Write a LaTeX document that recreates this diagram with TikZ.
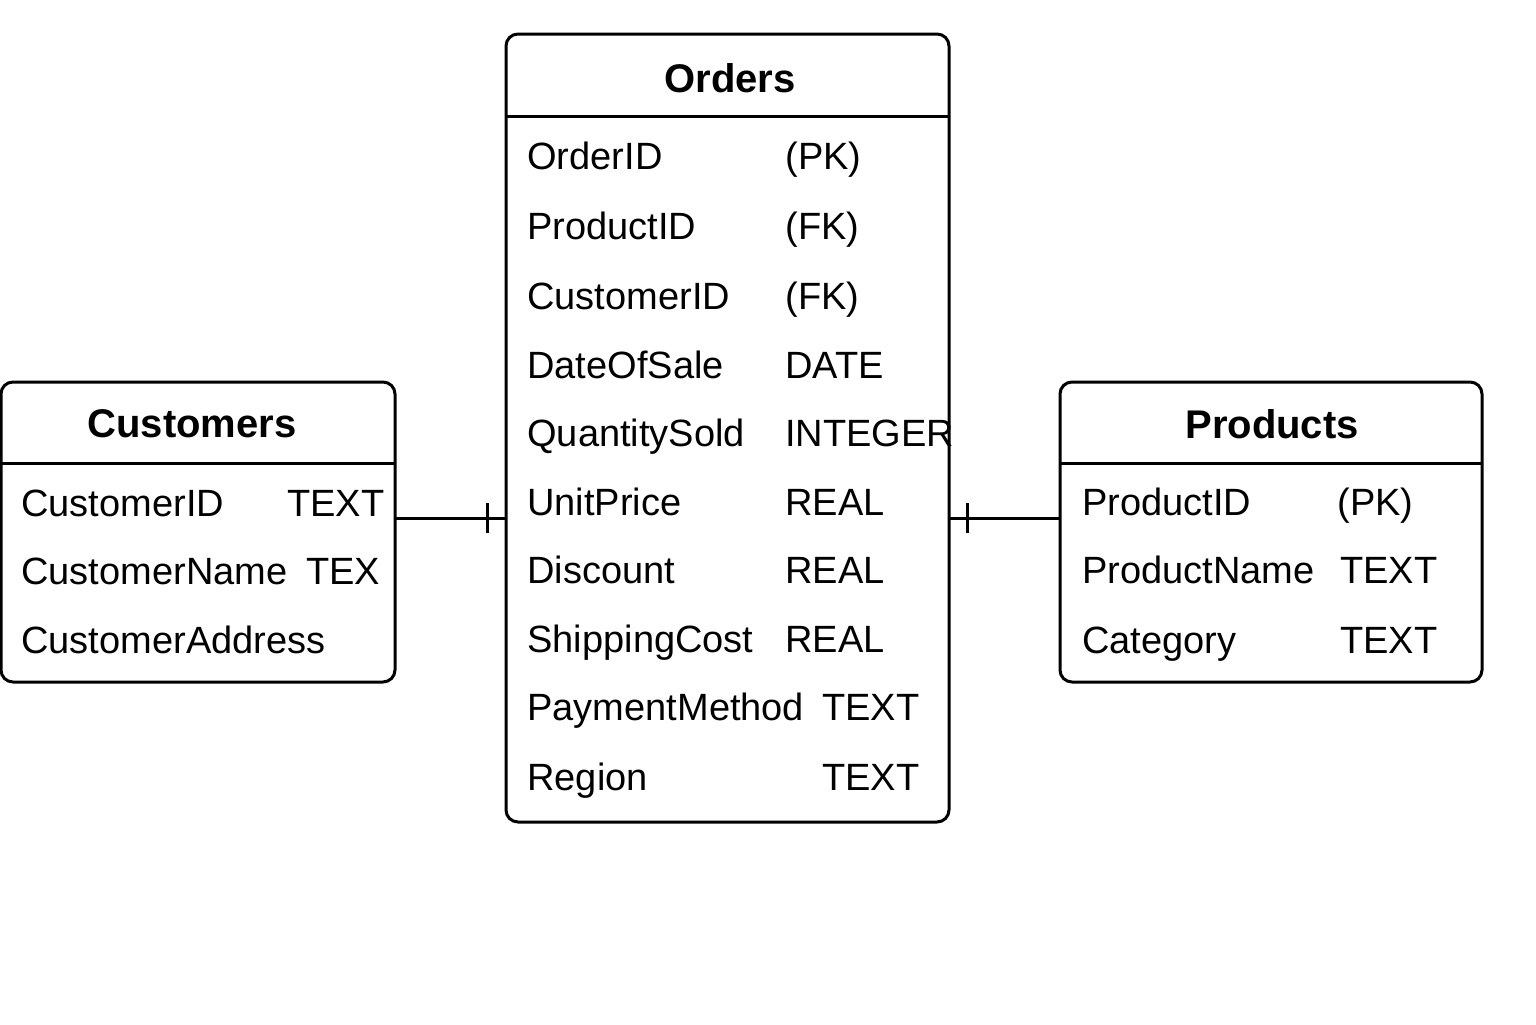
\documentclass[tikz,border=0pt]{standalone}
\usepackage{fontspec}
\setmainfont{Liberation Sans}
\begin{document}
\begin{tikzpicture}[x=0.5pt,y=-0.5pt,
  entity/.style={draw, line width=1.5pt, rounded corners=6pt, inner sep=0pt, outer sep=0pt},
  sep/.style={line width=1.5pt},
  conn/.style={line width=1.5pt},
  fld/.style={anchor=base west, inner sep=0pt, font=\fontsize{19}{23}\selectfont},
  ttl/.style={anchor=base, inner sep=0pt, font=\fontsize{20}{24}\selectfont\bfseries}]
\useasboundingbox (0,0) rectangle (1536,1024);
% boxes
\node[entity, minimum width=197pt, minimum height=150pt] (cust) at (198,532) {};
\node[entity, minimum width=221.5pt, minimum height=394pt] (orders) at (727.5,428) {};
\node[entity, minimum width=211pt, minimum height=150pt] (prod) at (1271,532) {};
% header separators
\coordinate (hc) at (0,463);
\coordinate (ho) at (0,116);
\draw[sep] (cust.west |- hc) -- (cust.east |- hc);
\draw[sep] (orders.west |- ho) -- (orders.east |- ho);
\draw[sep] (prod.west |- hc) -- (prod.east |- hc);
% titles
\node[ttl] (tcust) at (192,437) {Customers};
\node[ttl] (tord) at (730,92) {Orders};
\node[ttl] (tprod) at (1272,438) {Products};
% Customers fields
\node[fld] (c1a) at (21,516) {CustomerID};
\node[fld] (c1b) at (287,516) {TEXT};
\node[fld] (c2a) at (21,584) {CustomerName};
\node[fld] (c2b) at (306,584) {TEX};
\node[fld] (c3a) at (21,653) {CustomerAddress};
% Orders fields
\node[fld] (o1a) at (527,169) {OrderID};
\node[fld] (o1b) at (785,169) {(PK)};
\node[fld] (o2a) at (527,239) {ProductID};
\node[fld] (o2b) at (785,239) {(FK)};
\node[fld] (o3a) at (527,309) {CustomerID};
\node[fld] (o3b) at (785,309) {(FK)};
\node[fld] (o4a) at (527,378) {DateOfSale};
\node[fld] (o4b) at (785,378) {DATE};
\node[fld] (o5a) at (527,446) {QuantitySold};
\node[fld] (o5b) at (785,446) {INTEGER};
\node[fld] (o6a) at (527,515) {UnitPrice};
\node[fld] (o6b) at (785,515) {REAL};
\node[fld] (o7a) at (527,583) {Discount};
\node[fld] (o7b) at (785,583) {REAL};
\node[fld] (o8a) at (527,652) {ShippingCost};
\node[fld] (o8b) at (785,652) {REAL};
\node[fld] (o9a) at (527,720) {PaymentMethod};
\node[fld] (o9b) at (822,720) {TEXT};
\node[fld] (o10a) at (527,790) {Region};
\node[fld] (o10b) at (822,790) {TEXT};
% Products fields
\node[fld] (p1a) at (1082,515) {ProductID};
\node[fld] (p1b) at (1337,515) {(PK)};
\node[fld] (p2a) at (1082,583) {ProductName};
\node[fld] (p2b) at (1340,583) {TEXT};
\node[fld] (p3a) at (1082,653) {Category};
\node[fld] (p3b) at (1340,653) {TEXT};
% connectors
\coordinate (ly) at (0,518);
\coordinate (tl) at (487,518);
\coordinate (tr) at (967,518);
\draw[conn] (cust.east |- ly) -- (orders.west |- ly);
\draw[conn] (tl) ++(0,-15) -- ++(0,30);
\draw[conn] (orders.east |- ly) -- (prod.west |- ly);
\draw[conn] (tr) ++(0,-15) -- ++(0,30);
\end{tikzpicture}
\end{document}
